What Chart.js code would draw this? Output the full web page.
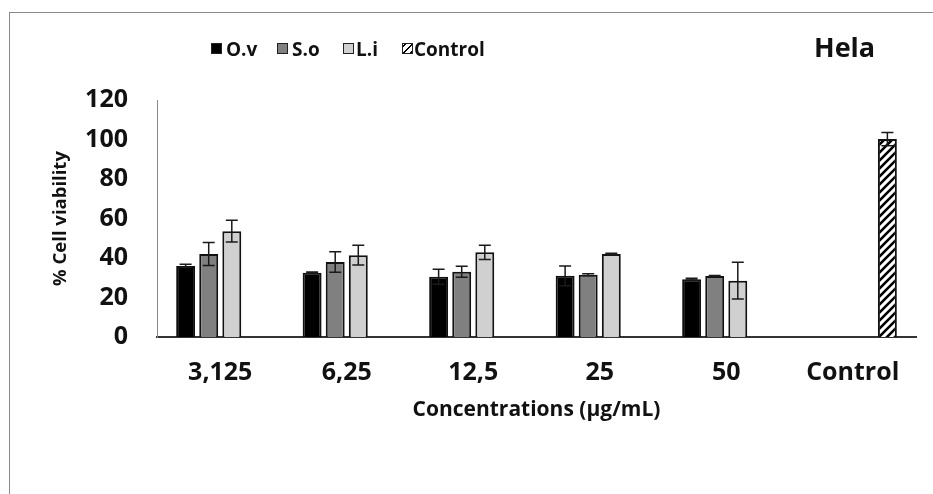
<!DOCTYPE html>
<html>
<head>
<meta charset="utf-8">
<script src="https://cdn.jsdelivr.net/npm/chart.js@4.4.1/dist/chart.umd.min.js"></script>
<style>
  html, body { margin: 0; padding: 0; background: #fff; }
  #wrap { position: relative; width: 933px; height: 494px; overflow: hidden; font-family: "Open Sans", sans-serif; }
  #frame { position: absolute; left: 9px; top: 12px; right: -5px; bottom: -5px; border-left: 1.5px solid #8a8a8a; border-top: 1.5px solid #8a8a8a; }
  #c { position: absolute; left: 0; top: 0; }
  .lg { position: absolute; top: 35px; height: 28px; line-height: 28px; font-weight: 700; font-size: 19px; color: #111; white-space: nowrap; }
  .sw { position: absolute; top: 43px; width: 9px; height: 9px; border: 1.5px solid #222; }
  #title { position: absolute; left: 814px; top: 28px; height: 38px; line-height: 38px; font-weight: 700; font-size: 27px; color: #111; }
</style>
</head>
<body>
<div id="wrap">
  <div id="frame"></div>
  <canvas id="c" width="933" height="494"></canvas>
  <div id="legend"></div>
  <div id="title">Hela</div>
</div>
<script>
// ---- data ----
const categories = ['3,125', '6,25', '12,5', '25', '50', 'Control'];
const ovValues   = [36.0, 32.5, 30.5, 31.0, 29.3, null];
const ovErrors   = [0.8, 0.4, 3.8, 5.0, 0.4, null];
const soValues   = [42.0, 38.0, 33.0, 31.5, 30.9, null];
const soErrors   = [5.8, 5.2, 2.8, 0.5, 0.2, null];
const liValues   = [53.6, 41.4, 42.9, 42.0, 28.5, null];
const liErrors   = [5.5, 5.0, 3.6, 0.4, 9.3, null];
const ctrlValues = [null, null, null, null, null, 100.2];
const ctrlErrors = [null, null, null, null, null, 3.4];
const yTicks = [0, 20, 40, 60, 80, 100, 120];
const seriesNames = ['O.v', 'S.o', 'L.i', 'Control'];

// hatch pattern for the Control bar
function makeHatch() {
  const p = document.createElement('canvas');
  p.width = 8; p.height = 8;
  const g = p.getContext('2d');
  g.fillStyle = '#fff'; g.fillRect(0, 0, 8, 8);
  g.strokeStyle = '#000'; g.lineWidth = 2.6; g.lineCap = 'square';
  g.beginPath();
  g.moveTo(-2, 10); g.lineTo(10, -2);
  g.moveTo(-2, 2); g.lineTo(2, -2);
  g.moveTo(6, 10); g.lineTo(10, 6);
  g.stroke();
  return g.createPattern(p, 'repeat');
}
const ctx = document.getElementById('c').getContext('2d');
const hatch = makeHatch();

const errorSets = [ovErrors, soErrors, liErrors, ctrlErrors];

const errorBarPlugin = {
  id: 'errorBars',
  afterDatasetsDraw(chart) {
    const c = chart.ctx;
    const ys = chart.scales.y;
    c.save();
    c.strokeStyle = '#1a1a1a';
    c.lineWidth = 1.5;
    chart.data.datasets.forEach((ds, di) => {
      const meta = chart.getDatasetMeta(di);
      const errs = errorSets[di];
      meta.data.forEach((bar, i) => {
        const v = ds.data[i];
        const e = errs[i];
        if (v == null || e == null) return;
        const x = bar.x;
        const yTop = ys.getPixelForValue(v + e);
        const yBot = ys.getPixelForValue(v - e);
        c.beginPath();
        c.moveTo(x, yTop); c.lineTo(x, yBot);
        c.moveTo(x - 6, yTop); c.lineTo(x + 6, yTop);
        c.moveTo(x - 6, yBot); c.lineTo(x + 6, yBot);
        c.stroke();
      });
    });
    c.restore();
  }
};

const barCommon = { borderColor: '#111', borderWidth: 2, categoryPercentage: 0.73, barPercentage: 0.82 };

new Chart(ctx, {
  type: 'bar',
  data: {
    labels: categories,
    datasets: [
      Object.assign({ label: seriesNames[0], data: ovValues, backgroundColor: '#000000' }, barCommon),
      Object.assign({ label: seriesNames[1], data: soValues, backgroundColor: '#808080' }, barCommon),
      Object.assign({ label: seriesNames[2], data: liValues, backgroundColor: '#d0d0d0' }, barCommon),
      Object.assign({ label: seriesNames[3], data: ctrlValues, backgroundColor: hatch }, barCommon)
    ]
  },
  options: {
    responsive: false,
    animation: false,
    layout: { padding: { top: 100, right: 17, bottom: 71, left: 50 } },
    plugins: { legend: { display: false }, tooltip: { enabled: false } },
    scales: {
      x: {
        grid: { display: false, drawTicks: false },
        border: { display: true, color: '#333', width: 2 },
        ticks: { color: '#111', padding: 21, font: { family: 'Open Sans', size: 25, weight: 'bold' } },
        title: { display: true, text: 'Concentrations (µg/mL)', color: '#111', padding: 0,
                 font: { family: 'Open Sans', size: 21, weight: 'bold' } },
        afterFit(scale) { scale.height = 86; }
      },
      y: {
        min: 0, max: 120,
        afterBuildTicks(scale) { scale.ticks = yTicks.map(v => ({ value: v })); },
        grid: { display: false, drawTicks: false },
        border: { display: true, color: '#888', width: 1 },
        ticks: { color: '#111', padding: 29, font: { family: 'Open Sans', size: 25, weight: 'bold' } },
        title: { display: true, text: '% Cell viability', color: '#111', padding: 0,
                 font: { family: 'Open Sans', size: 18.5, weight: 'bold' } },
        afterFit(scale) { scale.width = 107; }
      }
    }
  },
  plugins: [errorBarPlugin]
});

// legend (HTML text)
const legendPos = [
  { box: 211, text: 226, fill: '#000' },
  { box: 277, text: 292, fill: '#808080' },
  { box: 343, text: 356, fill: '#d0d0d0' },
  { box: 402, text: 414, fill: 'repeating-linear-gradient(-45deg, #000 0 2px, #fff 2px 5px)' }
];
const lg = document.getElementById('legend');
seriesNames.forEach((name, i) => {
  const sw = document.createElement('div');
  sw.className = 'sw';
  sw.style.left = legendPos[i].box + 'px';
  sw.style.background = legendPos[i].fill;
  lg.appendChild(sw);
  const t = document.createElement('div');
  t.className = 'lg';
  t.style.left = legendPos[i].text + 'px';
  t.textContent = name;
  lg.appendChild(t);
});
</script>
</body>
</html>
